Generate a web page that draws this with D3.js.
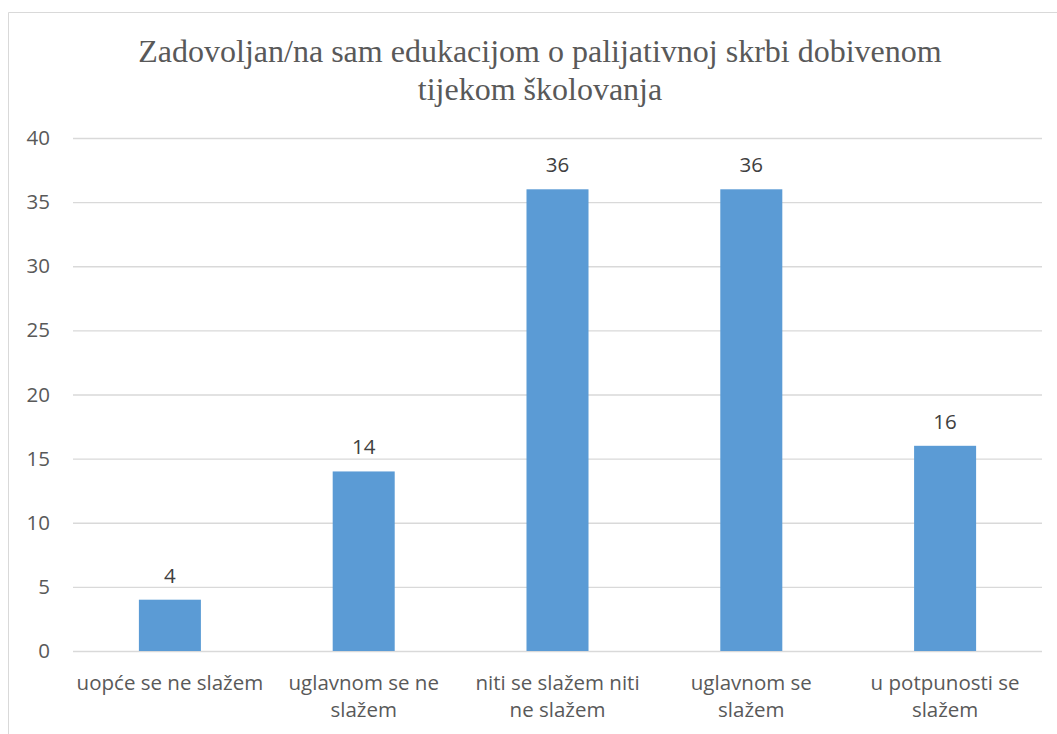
<!DOCTYPE html>
<html>
<head>
<meta charset="utf-8">
<script src="https://cdn.jsdelivr.net/npm/d3@7"></script>
<style>
  body { margin: 0; background: #fff; }
  svg { display: block; }
</style>
</head>
<body>
<svg id="graph"></svg>
<script>
const categories = [
  "uopće se ne slažem",
  "uglavnom se ne slažem",
  "niti se slažem niti ne slažem",
  "uglavnom se slažem",
  "u potpunosti se slažem"
];
// how the category labels break over lines
const categoryLines = [
  ["uopće se ne slažem"],
  ["uglavnom se ne", "slažem"],
  ["niti se slažem niti", "ne slažem"],
  ["uglavnom se", "slažem"],
  ["u potpunosti se", "slažem"]
];
const values = [4, 14, 36, 36, 16];
const yTicks = [0, 5, 10, 15, 20, 25, 30, 35, 40];
const titleLines = ["Zadovoljan/na sam edukacijom o palijativnoj skrbi dobivenom", "tijekom školovanja"];

const width = 1057;
const height = 734;
const margin = { top: 138, right: 15, bottom: 83, left: 73 };
const sans = "'Open Sans', 'Liberation Sans', sans-serif";

const svg = d3.select("#graph").attr("width", width).attr("height", height);

// chart frame (top and left edges visible)
svg.append("path")
  .attr("d", `M8.5,${height} V12.5 H${width}`)
  .attr("fill", "none")
  .attr("stroke", "#d9d9d9")
  .attr("stroke-width", 1);

const x = d3.scaleBand()
  .domain(categories)
  .range([margin.left, width - margin.right])
  .paddingInner(0.68)
  .paddingOuter(0.34);

const y = d3.scaleLinear()
  .domain([0, 40])
  .range([height - margin.bottom, margin.top]);

// title
svg.append("text")
  .attr("x", 540)
  .attr("y", 62)
  .attr("text-anchor", "middle")
  .attr("fill", "#595959")
  .style("font-family", "'Liberation Serif', 'Times New Roman', serif")
  .style("font-size", "32px")
  .selectAll("tspan")
  .data(titleLines)
  .join("tspan")
  .attr("x", 540)
  .attr("dy", (d, i) => i === 0 ? 0 : 38)
  .text(d => d);

// gridlines + y labels
svg.append("g")
  .attr("transform", `translate(${margin.left},0)`)
  .call(d3.axisLeft(y).tickValues(yTicks).tickSize(-(width - margin.right - margin.left)).tickPadding(23))
  .call(g => g.select(".domain").remove())
  .call(g => g.selectAll(".tick line").attr("stroke", "#d9d9d9").attr("stroke-width", 1.3))
  .call(g => g.selectAll(".tick text")
    .attr("fill", "#595959")
    .style("font-family", sans)
    .style("font-size", "20.5px"));

// bars
svg.append("g")
  .selectAll("rect")
  .data(values)
  .join("rect")
  .attr("fill", "#5b9bd5")
  .attr("x", (d, i) => x(categories[i]))
  .attr("y", d => y(d))
  .attr("width", x.bandwidth())
  .attr("height", d => y(0) - y(d));

// value labels
svg.append("g")
  .selectAll("text")
  .data(values)
  .join("text")
  .attr("x", (d, i) => x(categories[i]) + x.bandwidth() / 2)
  .attr("y", d => y(d) - 17)
  .attr("text-anchor", "middle")
  .attr("fill", "#404040")
  .style("font-family", sans)
  .style("font-size", "20.5px")
  .text(d => d);

// category labels
const xAxis = svg.append("g")
  .attr("transform", `translate(0,${y(0)})`)
  .call(d3.axisBottom(x).tickSize(0).tickFormat(""))
  .call(g => g.select(".domain").remove());

xAxis.selectAll(".tick text").remove();
xAxis.selectAll(".tick")
  .append("text")
  .attr("text-anchor", "middle")
  .attr("fill", "#595959")
  .style("font-family", sans)
  .style("font-size", "20.5px")
  .selectAll("tspan")
  .data(d => categoryLines[categories.indexOf(d)])
  .join("tspan")
  .attr("x", 0)
  .attr("y", (d, i) => 39 + i * 27)
  .text(d => d);
</script>
</body>
</html>
